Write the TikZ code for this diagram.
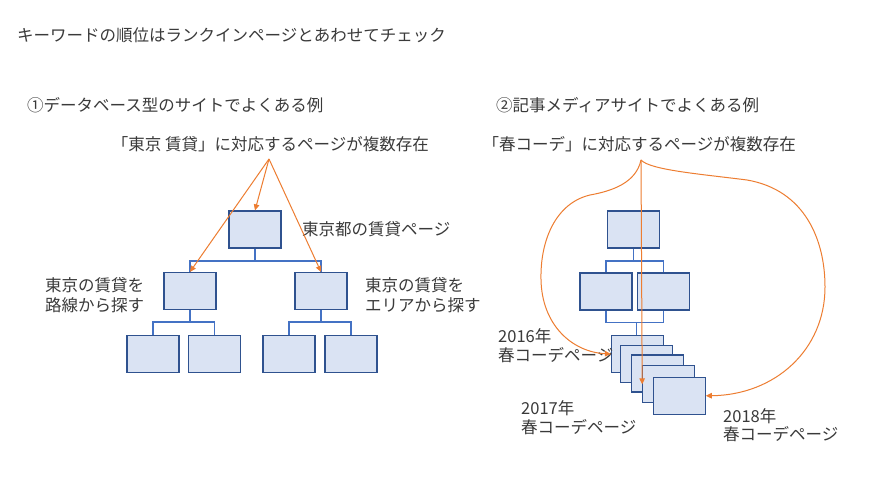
\documentclass[tikz,border=0pt]{standalone}
\usepackage{fontspec}
\setmainfont{Noto Sans CJK JP}
\usetikzlibrary{arrows.meta}
\definecolor{boxfill}{HTML}{DAE3F3}
\definecolor{boxdraw}{HTML}{2F528F}
\definecolor{linkblue}{HTML}{4472C4}
\definecolor{accent}{HTML}{ED7D31}
\definecolor{txt}{HTML}{3A3A3A}
\tikzset{
  pg/.style={draw=boxdraw, fill=boxfill, line width=1.2pt, minimum width=52pt, minimum height=37pt, inner sep=0pt},
  tree/.style={draw=linkblue, line width=1.1pt},
  hit/.style={draw=accent, line width=1pt, -{Triangle[width=5.5pt,length=6pt]}},
  lbl/.style={text=txt, inner sep=0pt, font=\fontsize{16.5}{20}\selectfont},
}
\begin{document}
\begin{tikzpicture}[x=1pt,y=-1pt]
\useasboundingbox[fill=white] (0,0) rectangle (885,481);

% headings
\node[lbl, anchor=base west] (title) at (17,42) {キーワードの順位はランクインページとあわせてチェック};
\node[lbl, anchor=base west] (h1) at (27,112) {①データベース型のサイトでよくある例};
\node[lbl, anchor=base west] (h2) at (496,112) {②記事メディアサイトでよくある例};
\node[lbl, anchor=base east] (q1) at (429,150) {「東京 賃貸」に対応するページが複数存在};
\node[lbl, anchor=base east] (q2) at (796,150) {「春コーデ」に対応するページが複数存在};

% left tree
\node[pg] (L0) at (255,229.5) {};
\node[pg] (L1a) at (190,291) {};
\node[pg] (L1b) at (321,291) {};
\node[pg] (L2a) at (153,354) {};
\node[pg] (L2b) at (214.5,354) {};
\node[pg] (L2c) at (289,354) {};
\node[pg] (L2d) at (351,354) {};
\coordinate (j0) at (255,261);
\coordinate (j1) at (190,322);
\coordinate (j2) at (321,322);
\draw[tree] (L0.south) -- (j0);
\draw[tree] (j0) -| (L1a.north);
\draw[tree] (j0) -| (L1b.north);
\draw[tree] (L1a.south) -- (j1);
\draw[tree] (j1) -| (L2a.north);
\draw[tree] (j1) -| (L2b.north);
\draw[tree] (L1b.south) -- (j2);
\draw[tree] (j2) -| (L2c.north);
\draw[tree] (j2) -| (L2d.north);

\node[lbl, anchor=base west] (l0t) at (302,235) {東京都の賃貸ページ};
\node[lbl, anchor=base west] (l1t) at (45,291) {東京の賃貸を};
\node[lbl, anchor=base west] (l1u) at (45,311) {路線から探す};
\node[lbl, anchor=base west] (l2t) at (365,291) {東京の賃貸を};
\node[lbl, anchor=base west] (l2u) at (365,311) {エリアから探す};

% right tree
\node[pg] (R0) at (633.5,229.5) {};
\node[pg] (R1a) at (606,291.5) {};
\node[pg] (R1b) at (663.5,291.5) {};
\coordinate (k0) at (633.5,261);
\coordinate (k1) at (636.7,322.7);
\draw[tree] (R0.south) -- (k0);
\draw[tree] (k0) -| (R1a.north);
\draw[tree] (k0) -| (R1b.north);
\draw[tree] (R1a.south) |- (k1);
\draw[tree] (R1b.south) |- (k1);
\node[pg] (S1) at (637.5,354) {};
\draw[tree] (k1) -- (k1 |- S1.north);
\node[pg] (S2) at (646.5,364.3) {};
\node[pg] (S3) at (657.2,373.5) {};
\node[pg] (S4) at (668.8,384.3) {};
\node[pg] (S5) at (679.2,395.8) {};

\node[lbl, anchor=base west] (y16) at (498,342) {2016年};
\node[lbl, anchor=base west] (y16b) at (498,361) {春コーデページ};
\node[lbl, anchor=base west] (y17) at (521,414) {2017年};
\node[lbl, anchor=base west] (y17b) at (521,433) {春コーデページ};
\node[lbl, anchor=base west] (y18) at (723,422) {2018年};
\node[lbl, anchor=base west] (y18b) at (723,440) {春コーデページ};

% orange arrows
\coordinate (la) at (269,159);
\coordinate (ra) at (641,160);
\draw[hit] (la) -- (L0.north);
\draw[hit] (la) -- (L1a.north);
\draw[hit] (la) -- (L1b.north);
\draw[hit] (ra) -- (S4.west);
\draw[hit] (ra) .. controls (636,183) and (612,191) .. (590,195)
  .. controls (556,203) and (540,240) .. (541,280)
  .. controls (542,325) and (572,352) .. (S1.west);
\draw[hit] (ra) .. controls (650,170) and (700,174) .. (747,180)
  .. controls (805,190) and (825,240) .. (825,287)
  .. controls (825,350) and (775,395) .. (S5.east);
\end{tikzpicture}
\end{document}
